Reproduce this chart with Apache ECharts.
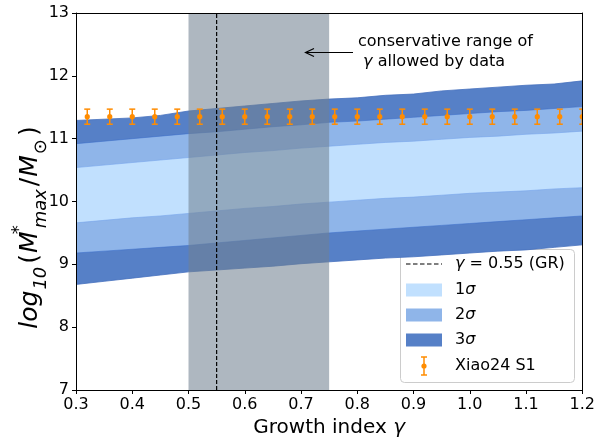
<!DOCTYPE html>
<html><head><meta charset="utf-8">
<script src="https://cdn.jsdelivr.net/npm/echarts@6/dist/echarts.min.js"></script>
<style>html,body{margin:0;padding:0;background:#fff}#c{width:598px;height:444px}</style>
</head><body><div id="c"></div>
<script>
// ---------- data ----------
const gammaGrid   = [0.30,0.35,0.40,0.45,0.50,0.55,0.60,0.65,0.70,0.75,0.80,0.85,0.90,0.95,1.00,1.05,1.10,1.15,1.20];
const sigma3Upper = [11.29,11.31,11.33,11.37,11.44,11.48,11.52,11.56,11.60,11.63,11.65,11.69,11.71,11.76,11.79,11.82,11.85,11.87,11.92];
const sigma2Upper = [10.92,10.96,11.00,11.04,11.08,11.11,11.15,11.19,11.22,11.26,11.28,11.31,11.34,11.37,11.40,11.43,11.45,11.48,11.51];
const sigma1Upper = [10.54,10.58,10.62,10.66,10.70,10.74,10.78,10.81,10.85,10.88,10.91,10.94,10.96,10.99,11.02,11.04,11.07,11.09,11.12];
const sigma1Lower = [9.66,9.70,9.74,9.77,9.81,9.85,9.89,9.92,9.96,9.99,10.02,10.05,10.07,10.10,10.13,10.15,10.17,10.20,10.22];
const sigma2Lower = [9.18,9.21,9.24,9.27,9.30,9.34,9.38,9.42,9.46,9.50,9.53,9.56,9.59,9.62,9.65,9.68,9.71,9.74,9.77];
const sigma3Lower = [8.68,8.73,8.78,8.83,8.88,8.91,8.94,8.97,9.01,9.04,9.07,9.10,9.12,9.15,9.18,9.21,9.23,9.27,9.31];

const xiaoGamma = [0.32,0.36,0.40,0.44,0.48,0.52,0.56,0.60,0.64,0.68,0.72,0.76,0.80,0.84,0.88,0.92,0.96,1.00,1.04,1.08,1.12,1.16,1.20];
const xiaoMass  = [11.35,11.35,11.35,11.35,11.35,11.35,11.35,11.35,11.35,11.35,11.35,11.35,11.35,11.35,11.35,11.35,11.35,11.35,11.35,11.35,11.35,11.35,11.35];
const xiaoErr   = [0.12,0.12,0.12,0.12,0.12,0.12,0.12,0.12,0.12,0.12,0.12,0.12,0.12,0.12,0.12,0.12,0.12,0.12,0.12,0.12,0.12,0.12,0.12];

const grGamma = 0.55;
const allowedRange = [0.5, 0.75];
const xRange = [0.3, 1.2];
const yRange = [7, 13];

const legendLabels = ['{i|γ} = 0.55 (GR)', '1{i|σ}', '2{i|σ}', '3{i|σ}', 'Xiao24 S1'];
const annotationLines = ['conservative range of', ' {i|γ} allowed by data'];

// ---------- style ----------
const FONT = 'DejaVu Sans';
const C1 = '#c1e0fe', C2 = '#8fb5e9', C3 = '#5680c7';
const ORANGE = '#ff8c00';
const GRAY = 'rgba(112,128,144,0.57)';

function bandSeries(name, lower, upper, fill, edge, z) {
  return {
    type: 'custom', name: name, z: z, clip: true, silent: true,
    data: gammaGrid.map((g, i) => [g, lower[i], upper[i]]),
    encode: { x: 0, y: [1, 2] },
    renderItem: function (params, api) {
      if (params.dataIndexInside !== 0) return null;
      const n = params.dataInsideLength;
      const top = [], bot = [];
      for (let j = 0; j < n; j++) {
        top.push(api.coord([api.value(0, j), api.value(2, j)]));
        bot.push(api.coord([api.value(0, j), api.value(1, j)]));
      }
      const poly = top.concat(bot.slice().reverse());
      return { type: 'group', children: [
        { type: 'polygon', shape: { points: poly }, style: { fill: fill, stroke: null } },
        { type: 'polyline', shape: { points: top }, style: { fill: null, stroke: edge, lineWidth: 1 } },
        { type: 'polyline', shape: { points: bot }, style: { fill: null, stroke: edge, lineWidth: 1 } }
      ]};
    }
  };
}

const richI = { i: { fontStyle: 'italic', fontFamily: FONT, fontSize: 16, color: '#000' } };

const axisCommon = {
  z: 10,
  axisLine: { show: true, lineStyle: { color: '#000', width: 1 } },
  splitLine: { show: false }
};

const option = {
  animation: false,
  backgroundColor: '#fff',
  grid: { left: 76, right: 15, top: 13, bottom: 54, containLabel: false },
  xAxis: [
    Object.assign({}, axisCommon, {
      type: 'value', min: xRange[0], max: xRange[1], interval: 0.1, position: 'bottom',
      axisTick: { show: true, length: 4, lineStyle: { color: '#000' } },
      axisLabel: { color: '#000', fontSize: 16, fontFamily: FONT, margin: 7,
        formatter: v => v.toFixed(1) },
      name: 'Growth index {i|γ}', nameLocation: 'middle', nameGap: 28,
      nameTextStyle: { color: '#000', fontSize: 20, fontFamily: FONT,
        rich: { i: { fontStyle: 'italic', fontSize: 20, fontFamily: FONT, color: '#000' } } }
    }),
    Object.assign({}, axisCommon, {
      type: 'value', min: xRange[0], max: xRange[1], position: 'top',
      axisTick: { show: false }, axisLabel: { show: false }
    })
  ],
  yAxis: [
    Object.assign({}, axisCommon, {
      type: 'value', min: yRange[0], max: yRange[1], interval: 1, position: 'left',
      axisTick: { show: true, length: 4, lineStyle: { color: '#000' } },
      axisLabel: { color: '#000', fontSize: 16, fontFamily: FONT, margin: 7 }
    }),
    Object.assign({}, axisCommon, {
      type: 'value', min: yRange[0], max: yRange[1], position: 'right',
      axisTick: { show: false }, axisLabel: { show: false }
    })
  ],
  series: [
    bandSeries('3σ', sigma3Lower, sigma3Upper, C3, 'rgba(70,112,190,0.8)', 2),
    bandSeries('2σ', sigma2Lower, sigma2Upper, C2, 'rgba(60,110,200,0.55)', 3),
    bandSeries('1σ', sigma1Lower, sigma1Upper, C1, 'rgba(120,165,235,0.6)', 4),
    {
      type: 'custom', name: 'allowed', z: 5, clip: true, silent: true,
      data: [allowedRange],
      encode: { x: [0, 1] },
      renderItem: function (params, api) {
        const cs = params.coordSys;
        const a = api.coord([api.value(0), yRange[0]]);
        const b = api.coord([api.value(1), yRange[0]]);
        return { type: 'rect', shape: { x: a[0], y: cs.y, width: b[0] - a[0], height: cs.height },
          style: { fill: GRAY } };
      }
    },
    {
      type: 'line', name: 'GR', z: 6, silent: true, symbol: 'none',
      data: [[grGamma, yRange[0]], [grGamma, yRange[1]]],
      lineStyle: { color: '#000', width: 1.2, type: [4, 2] }
    },
    {
      type: 'custom', name: 'Xiao24 S1', z: 7, clip: true, silent: true,
      data: xiaoGamma.map((g, i) => [g, xiaoMass[i], xiaoErr[i]]),
      encode: { x: 0, y: 1 },
      renderItem: function (params, api) {
        const x = api.value(0), y = api.value(1), e = api.value(2);
        const p = api.coord([x, y]);
        const hi = api.coord([x, y + e]);
        const lo = api.coord([x, y - e]);
        const cw = 3;
        const st = { stroke: ORANGE, lineWidth: 1.5 };
        return { type: 'group', children: [
          { type: 'line', shape: { x1: p[0], y1: hi[1], x2: p[0], y2: lo[1] }, style: st },
          { type: 'line', shape: { x1: p[0] - cw, y1: hi[1], x2: p[0] + cw, y2: hi[1] }, style: st },
          { type: 'line', shape: { x1: p[0] - cw, y1: lo[1], x2: p[0] + cw, y2: lo[1] }, style: st },
          { type: 'circle', shape: { cx: p[0], cy: p[1], r: 2.6 }, style: { fill: ORANGE } }
        ]};
      }
    }
  ],
  graphic: [
    // y-axis title
    { type: 'text', x: 30, y: 227, rotation: Math.PI / 2, z: 20,
      style: {
        text: '{i|log}{n|10}{u|(}{i|M}{sup|*}{n|max}{u|/}{i|M}{n|⊙}{u|)}',
        align: 'center', verticalAlign: 'middle',
        rich: {
          i: { fontStyle: 'italic', fontFamily: FONT, fontSize: 25, lineHeight: 40, color: '#000' },
          u: { fontFamily: FONT, fontSize: 25, lineHeight: 40, color: '#000', padding: [0, 1, 0, 1] },
          n: { fontStyle: 'italic', fontFamily: FONT, fontSize: 18, lineHeight: 22, verticalAlign: 'bottom', color: '#000', padding: [0, 2, 0, 1] },
          sup: { fontFamily: FONT, fontSize: 18, lineHeight: 22, verticalAlign: 'top', width: 1, color: '#000', padding: [0, 0, 0, 1] }
        }
      } },
    // annotation
    { type: 'text', x: 358, y: 42, z: 20,
      style: { text: annotationLines[0], fontFamily: FONT, fontSize: 16, fill: '#000', verticalAlign: 'middle', align: 'left' } },
    { type: 'text', x: 358, y: 62, z: 20,
      style: { text: annotationLines[1], fontFamily: FONT, fontSize: 16, fill: '#000', verticalAlign: 'middle', align: 'left', rich: richI } },
    { type: 'line', z: 20, shape: { x1: 353, y1: 52.5, x2: 306, y2: 52.5 }, style: { stroke: '#000', lineWidth: 1.2 } },
    { type: 'polyline', z: 20, shape: { points: [[314, 48.5], [305.5, 52.5], [314, 56.5]] }, style: { stroke: '#000', lineWidth: 1.2, fill: null } },
    // legend
    { type: 'group', z: 30, children: [
      { type: 'rect', shape: { x: 400.5, y: 249.5, width: 174, height: 133, r: 4 },
        style: { fill: 'rgba(255,255,255,0.8)', stroke: '#cccccc', lineWidth: 1 } },
      { type: 'line', shape: { x1: 406, y1: 264, x2: 442, y2: 264 }, style: { stroke: '#000', lineWidth: 1.2, lineDash: [4.5, 2.5] } },
      { type: 'rect', shape: { x: 406, y: 283.5, width: 36, height: 13 }, style: { fill: C1 } },
      { type: 'rect', shape: { x: 406, y: 308.5, width: 36, height: 13 }, style: { fill: C2 } },
      { type: 'rect', shape: { x: 406, y: 333.5, width: 36, height: 13 }, style: { fill: C3 } },
      { type: 'line', shape: { x1: 424, y1: 357, x2: 424, y2: 375 }, style: { stroke: ORANGE, lineWidth: 1.5 } },
      { type: 'line', shape: { x1: 421, y1: 357, x2: 427, y2: 357 }, style: { stroke: ORANGE, lineWidth: 1.5 } },
      { type: 'line', shape: { x1: 421, y1: 375, x2: 427, y2: 375 }, style: { stroke: ORANGE, lineWidth: 1.5 } },
      { type: 'circle', shape: { cx: 424, cy: 366, r: 2.6 }, style: { fill: ORANGE } },
      { type: 'text', x: 455, y: 264, style: { text: legendLabels[0], fontFamily: FONT, fontSize: 16, fill: '#000', verticalAlign: 'middle', rich: richI } },
      { type: 'text', x: 455, y: 290, style: { text: legendLabels[1], fontFamily: FONT, fontSize: 16, fill: '#000', verticalAlign: 'middle', rich: richI } },
      { type: 'text', x: 455, y: 315, style: { text: legendLabels[2], fontFamily: FONT, fontSize: 16, fill: '#000', verticalAlign: 'middle', rich: richI } },
      { type: 'text', x: 455, y: 340, style: { text: legendLabels[3], fontFamily: FONT, fontSize: 16, fill: '#000', verticalAlign: 'middle', rich: richI } },
      { type: 'text', x: 455, y: 366, style: { text: legendLabels[4], fontFamily: FONT, fontSize: 16, fill: '#000', verticalAlign: 'middle' } }
    ] }
  ]
};

const chart = echarts.init(document.getElementById('c'));
chart.setOption(option);
</script>
</body></html>
